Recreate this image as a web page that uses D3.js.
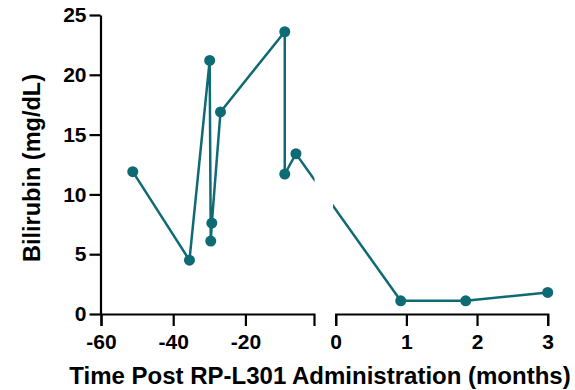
<!DOCTYPE html>
<html>
<head>
<meta charset="utf-8">
<script src="https://cdn.jsdelivr.net/npm/d3@7"></script>
<style>
  body { margin: 0; background: #fff; }
  svg { display: block; font-family: "Liberation Sans", Arial, sans-serif; }
  .axis path, .axis line { stroke: #000; stroke-width: 2.2; }
  .axis text { font-family: "Liberation Sans", Arial, sans-serif; font-size: 21px; font-weight: 700; fill: #000; }
</style>
</head>
<body>
<svg id="chart" width="575" height="390"></svg>
<script>
// bilirubin readings, months relative to RP-L301 dosing
const monthsPre = [-51.2, -35.5, -29.9, -29.6, -29.3, -26.9, -9.1, -9.1, -6.0];
const bilirubinPre = [11.9, 4.5, 21.2, 6.1, 7.6, 16.9, 23.6, 11.7, 13.4];
const monthsPost = [0.92, 1.84, 3.0];
const bilirubinPost = [1.1, 1.1, 1.8];
const ticksPre = [-60, -40, -20];
const ticksPost = [0, 1, 2, 3];
const ticksY = [0, 5, 10, 15, 20, 25];

const teal = "#0f6b73";
const svg = d3.select("#chart");
const fmt = d => String(d); // plain hyphen, no decimals

const y = d3.scaleLinear().domain([0, 25]).range([314, 15]);
// broken x axis: two segments
const xPre = d3.scaleLinear().domain([-60, -1]).range([101, 314]);
const xPost = d3.scaleLinear().domain([0, 3]).range([335.7, 547.7]);
const xAny = v => v < 0 ? xPre(v) : xPost(v);

const data = monthsPre.map((m, i) => ({ m: m, v: bilirubinPre[i] }))
  .concat(monthsPost.map((m, i) => ({ m: m, v: bilirubinPost[i] })));

function styleAxis(g) {
  g.selectAll("text")
    .style("font-weight", "700")
    .style("font-size", "21px")
    .style("font-family", "'Liberation Sans', Arial, sans-serif");
}

// axes
svg.append("g")
  .attr("class", "axis")
  .attr("transform", "translate(100.5,0)")
  .call(d3.axisLeft(y).tickValues(ticksY).tickFormat(fmt).tickSize(11).tickSizeOuter(0).tickPadding(3))
  .call(styleAxis);

svg.append("g")
  .attr("class", "axis")
  .attr("transform", `translate(0,${y(0)})`)
  .call(d3.axisBottom(xPre).tickValues(ticksPre).tickFormat(fmt).tickSize(12).tickSizeOuter(12).tickPadding(8))
  .call(styleAxis);

svg.append("g")
  .attr("class", "axis")
  .attr("transform", `translate(0,${y(0)})`)
  .call(d3.axisBottom(xPost).tickValues(ticksPost).tickFormat(fmt).tickSize(12).tickSizeOuter(12).tickPadding(8))
  .call(styleAxis);

// clip the line where the axis is broken
const defs = svg.append("defs");
const clip = defs.append("clipPath").attr("id", "gap");
clip.append("rect").attr("x", 0).attr("y", 0).attr("width", 314.5).attr("height", 390);
clip.append("rect").attr("x", 333).attr("y", 0).attr("width", 242).attr("height", 390);

const line = d3.line()
  .x(d => xAny(d.m))
  .y(d => y(d.v));

svg.append("path")
  .datum(data)
  .attr("clip-path", "url(#gap)")
  .attr("fill", "none")
  .attr("stroke", teal)
  .attr("stroke-width", 2.5)
  .attr("d", line);

svg.selectAll("circle.pt")
  .data(data)
  .enter().append("circle")
  .attr("class", "pt")
  .attr("cx", d => xAny(d.m))
  .attr("cy", d => y(d.v))
  .attr("r", 5.5)
  .attr("fill", teal);

// titles
svg.append("text")
  .attr("x", 320)
  .attr("y", 384)
  .attr("text-anchor", "middle")
  .attr("font-size", 24)
  .attr("font-weight", "bold")
  .text("Time Post RP-L301 Administration (months)");

svg.append("text")
  .attr("transform", "translate(40,168) rotate(-90)")
  .attr("text-anchor", "middle")
  .attr("font-size", 23.5)
  .attr("font-weight", "bold")
  .text("Bilirubin (mg/dL)");
</script>
</body>
</html>
